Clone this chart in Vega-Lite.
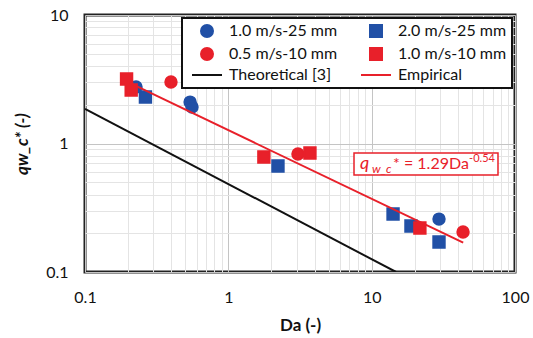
{
  "$schema": "https://vega.github.io/schema/vega-lite/v6.json",
  "width": 430,
  "height": 257,
  "autosize": {"type": "none"},
  "padding": {"left": 85, "top": 15, "right": 18, "bottom": 66},
  "background": "white",
  "config": {
    "font": "Lato",
    "view": {"stroke": "#222222", "strokeWidth": 3},
    "axis": {"labelFont": "Lato", "titleFont": "Lato", "labelColor": "#111111", "titleColor": "#111111"},
    "legend": {"strokeWidth": 2}
  },
  "datasets": {
    "points": [
      {"series": "1.0 m/s-25 mm", "da": 0.227, "q": 2.75},
      {"series": "1.0 m/s-25 mm", "da": 0.541, "q": 2.1},
      {"series": "1.0 m/s-25 mm", "da": 0.558, "q": 1.92},
      {"series": "1.0 m/s-25 mm", "da": 29.5, "q": 0.258},
      {"series": "0.5 m/s-10 mm", "da": 0.398, "q": 3.01},
      {"series": "0.5 m/s-10 mm", "da": 3.06, "q": 0.828},
      {"series": "0.5 m/s-10 mm", "da": 43.4, "q": 0.205},
      {"series": "2.0 m/s-25 mm", "da": 0.264, "q": 2.3},
      {"series": "2.0 m/s-25 mm", "da": 2.22, "q": 0.668},
      {"series": "2.0 m/s-25 mm", "da": 14.1, "q": 0.283},
      {"series": "2.0 m/s-25 mm", "da": 18.8, "q": 0.228},
      {"series": "2.0 m/s-25 mm", "da": 29.5, "q": 0.171},
      {"series": "1.0 m/s-10 mm", "da": 0.195, "q": 3.18},
      {"series": "1.0 m/s-10 mm", "da": 0.21, "q": 2.61},
      {"series": "1.0 m/s-10 mm", "da": 1.77, "q": 0.785},
      {"series": "1.0 m/s-10 mm", "da": 3.71, "q": 0.844},
      {"series": "1.0 m/s-10 mm", "da": 21.7, "q": 0.22}
    ],
    "theory": [
      {"da": 0.1, "q": 1.86},
      {"da": 14.8, "q": 0.1}
    ],
    "empirical": [
      {"da": 0.205, "q": 2.96},
      {"da": 43.5, "q": 0.169}
    ],
    "box": [
      {"da": 7.53, "da2": 76.1, "q": 0.843, "q2": 0.569}
    ],
    "label": [
      {"da": 8.3, "q": 0.633}
    ]
  },
  "encoding": {
    "x": {
      "field": "da", "type": "quantitative",
      "scale": {"type": "log", "domain": [0.1, 100], "nice": false},
      "axis": {
        "title": "Da (-)", "titleFontSize": 17, "titleFontWeight": "bold", "titlePadding": 12,
        "values": [0.1,0.2,0.3,0.4,0.5,0.6,0.7,0.8,0.9,1,2,3,4,5,6,7,8,9,10,20,30,40,50,60,70,80,90,100],
        "format": "~g",
        "labelExpr": "indexof([0.1,1,10,100], datum.value) >= 0 ? datum.label : ''",
        "labelOverlap": false, "labelFlush": false, "labelFontSize": 16, "labelPadding": 17,
        "ticks": false, "domain": false, "grid": true,
        "gridColor": {"condition": {"test": "indexof([0.1,1,10,100], datum.value) >= 0", "value": "#c4c4c4"}, "value": "#e4e4e4"},
        "gridWidth": 1
      }
    },
    "y": {
      "field": "q", "type": "quantitative",
      "scale": {"type": "log", "domain": [0.1, 10], "nice": false},
      "axis": {
        "title": "qw_c* (-)", "titleFontSize": 17, "titleFontWeight": "bold", "titleFontStyle": "italic", "titlePadding": 14,
        "values": [0.1,0.2,0.3,0.4,0.5,0.6,0.7,0.8,0.9,1,2,3,4,5,6,7,8,9,10],
        "format": "~g",
        "labelExpr": "indexof([0.1,1,10], datum.value) >= 0 ? datum.label : ''",
        "labelOverlap": false, "labelFlush": false, "labelFontSize": 16, "labelPadding": 17,
        "ticks": false, "domain": false, "grid": true,
        "gridColor": {"condition": {"test": "indexof([0.1,1,10], datum.value) >= 0", "value": "#c4c4c4"}, "value": "#e4e4e4"},
        "gridWidth": 1
      }
    }
  },
  "layer": [
    {
      "data": {"name": "points"},
      "mark": {"type": "point", "filled": true, "opacity": 1, "size": 130, "strokeWidth": 2},
      "encoding": {
        "fill": {
          "field": "series", "type": "nominal",
          "scale": {
            "domain": ["1.0 m/s-25 mm", "2.0 m/s-25 mm", "0.5 m/s-10 mm", "1.0 m/s-10 mm", "Theoretical [3]", "Empirical"],
            "range": ["#2150a6", "#2150a6", "#e8202a", "#e8202a", "#111111", "#e8202a"]
          },
          "legend": {
            "title": null, "orient": "top-right", "offset": 3, "columns": 2, "direction": "horizontal",
            "padding": 5, "columnPadding": 18, "rowPadding": 3,
            "labelFont": "Lato", "labelFontSize": 16, "labelColor": "#111111", "labelOffset": 14,
            "symbolSize": 144, "symbolStrokeWidth": 2, "symbolOffset": 12,
            "strokeColor": "#111111", "fillColor": "white", "cornerRadius": 0
          }
        },
        "stroke": {
          "field": "series", "type": "nominal",
          "scale": {
            "domain": ["1.0 m/s-25 mm", "2.0 m/s-25 mm", "0.5 m/s-10 mm", "1.0 m/s-10 mm", "Theoretical [3]", "Empirical"],
            "range": ["#2150a6", "#2150a6", "#e8202a", "#e8202a", "#111111", "#e8202a"]
          },
          "legend": {
            "title": null, "orient": "top-right", "offset": 3, "columns": 2, "direction": "horizontal",
            "padding": 5, "columnPadding": 18, "rowPadding": 3,
            "labelFont": "Lato", "labelFontSize": 16, "labelColor": "#111111", "labelOffset": 14,
            "symbolSize": 144, "symbolStrokeWidth": 2, "symbolOffset": 12,
            "strokeColor": "#111111", "fillColor": "white", "cornerRadius": 0
          }
        },
        "shape": {
          "field": "series", "type": "nominal",
          "scale": {
            "domain": ["1.0 m/s-25 mm", "2.0 m/s-25 mm", "0.5 m/s-10 mm", "1.0 m/s-10 mm", "Theoretical [3]", "Empirical"],
            "range": ["circle", "square", "circle", "square", "M-2.5,0H2.5", "M-2.5,0H2.5"]
          },
          "legend": {
            "title": null, "orient": "top-right", "offset": 3, "columns": 2, "direction": "horizontal",
            "padding": 5, "columnPadding": 18, "rowPadding": 3,
            "labelFont": "Lato", "labelFontSize": 16, "labelColor": "#111111", "labelOffset": 14,
            "symbolSize": 144, "symbolStrokeWidth": 2, "symbolOffset": 12,
            "strokeColor": "#111111", "fillColor": "white", "cornerRadius": 0
          }
        }
      }
    },
    {
      "data": {"name": "theory"},
      "mark": {"type": "line", "color": "#111111", "strokeWidth": 2, "clip": true},
      "encoding": {}
    },
    {
      "data": {"name": "empirical"},
      "mark": {"type": "line", "color": "#e8202a", "strokeWidth": 2, "clip": true},
      "encoding": {}
    },
    {
      "data": {"name": "box"},
      "mark": {"type": "rect", "fill": "white", "stroke": "#e8202a", "strokeWidth": 1.5},
      "encoding": {"x2": {"field": "da2"}, "y2": {"field": "q2"}}
    },
    {
      "data": {"name": "label"},
      "mark": {"type": "text", "text": "q", "align": "left", "baseline": "alphabetic", "font": "Lato", "fontSize": 18, "fontStyle": "italic", "color": "#e8202a"}
    },
    {
      "data": {"name": "label"},
      "mark": {"type": "text", "text": "w_c", "align": "left", "baseline": "alphabetic", "dx": 12, "dy": 4, "font": "Lato", "fontSize": 12, "fontStyle": "italic", "color": "#e8202a"}
    },
    {
      "data": {"name": "label"},
      "mark": {"type": "text", "text": "* = 1.29Da", "align": "left", "baseline": "alphabetic", "dx": 33, "font": "Lato", "fontSize": 16, "color": "#e8202a"}
    },
    {
      "data": {"name": "label"},
      "mark": {"type": "text", "text": "-0.54", "align": "left", "baseline": "alphabetic", "dx": 109, "dy": -7, "font": "Lato", "fontSize": 11, "color": "#e8202a"}
    }
  ]
}
